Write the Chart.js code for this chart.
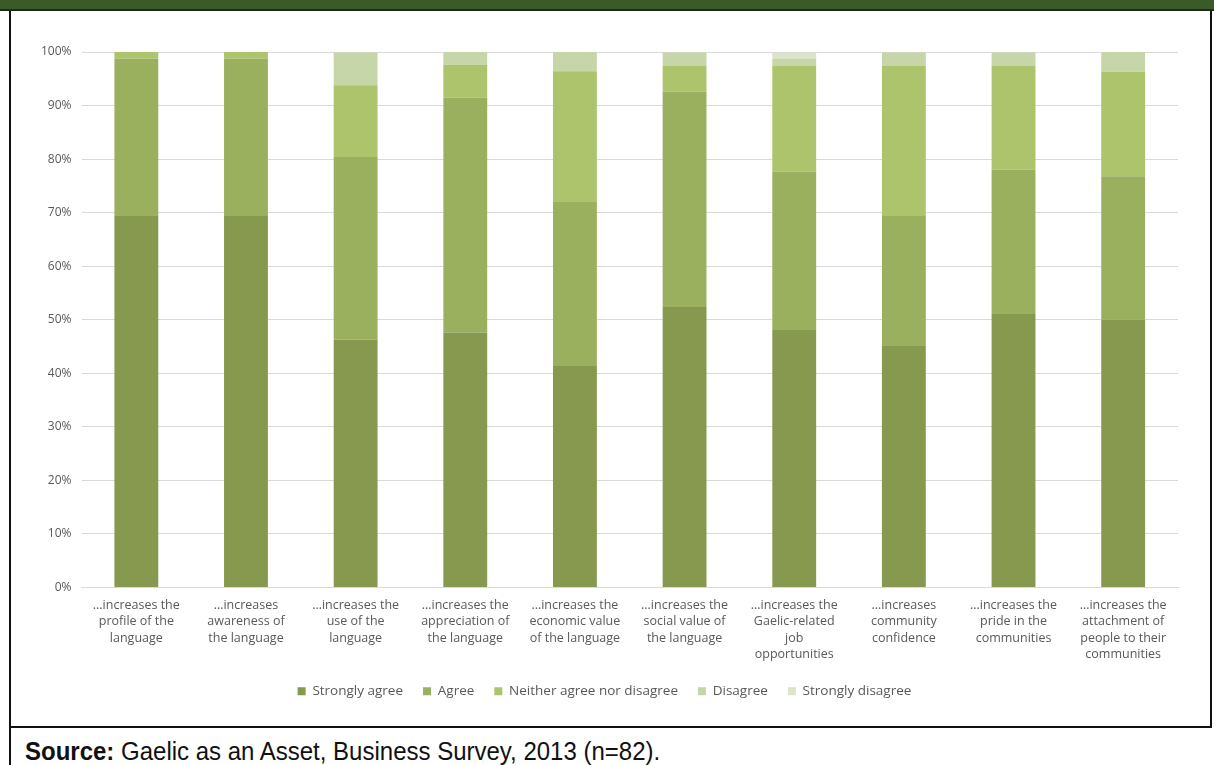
<!DOCTYPE html>
<html>
<head>
<meta charset="utf-8">
<script src="https://cdn.jsdelivr.net/npm/chart.js@4.4.0/dist/chart.umd.min.js"></script>
<style>
  body { margin: 0; background: #fff; width: 1214px; height: 765px; position: relative; overflow: hidden; }
  .topband { position: absolute; left: 0; top: 0; width: 1214px; height: 9px; background: #3a5b28; border-bottom: 2px solid #1f2a18; }
  .box { position: absolute; left: 9px; top: 11px; width: 1201px; height: 715px; border-right: 2px solid #111; border-bottom: 2px solid #111; }
  .leftline { position: absolute; left: 9px; top: 11px; width: 2px; height: 754px; background: #111; }
  .box canvas { display: block; margin-left: 2px; }
  .source { position: absolute; left: 25px; top: 736px; font-family: "Liberation Sans", Arial, sans-serif; font-size: 26px; line-height: 30px; color: #111;
            transform: scaleX(0.923); transform-origin: left top; white-space: nowrap; }
</style>
</head>
<body>
<div class="topband"></div>
<div class="box"><canvas id="surveyChart" width="1199" height="715"></canvas></div>
<div class="leftline"></div>
<div class="source"><b>Source:</b> Gaelic as an Asset, Business Survey, 2013 (n=82).</div>
<script>
// Statements, wrapped the way the axis shows them
const statements = [
  ["…increases the", "profile of the", "language"],
  ["…increases", "awareness of", "the language"],
  ["…increases the", "use of the", "language"],
  ["…increases the", "appreciation of", "the language"],
  ["…increases the", "economic value", "of the language"],
  ["…increases the", "social value of", "the language"],
  ["…increases the", "Gaelic-related", "job", "opportunities"],
  ["…increases", "community", "confidence"],
  ["…increases the", "pride in the", "communities"],
  ["…increases the", "attachment of", "people to their", "communities"],
];

// Share of respondents (%) per answer
const stronglyAgree = [69.5, 69.5, 46.3, 47.6, 41.5, 52.4, 48.1, 45.1, 51.2, 50.0];
const agree = [29.3, 29.3, 34.1, 43.9, 30.5, 40.2, 29.6, 24.4, 26.8, 26.8];
const neither = [1.2, 1.2, 13.4, 6.1, 24.4, 4.9, 19.8, 28.0, 19.5, 19.5];
const disagree = [0, 0, 6.1, 2.4, 3.7, 2.4, 1.2, 2.4, 2.4, 3.7];
const stronglyDisagree = [0, 0, 0, 0, 0, 0, 1.2, 0, 0, 0];

const seriesNames = ["Strongly agree", "Agree", "Neither agree nor disagree", "Disagree", "Strongly disagree"];
const seriesValues = [stronglyAgree, agree, neither, disagree, stronglyDisagree];
const seriesColors = ["#87994f", "#9bb05e", "#adc46c", "#c7d6a8", "#dbe4c9"];

const textFont = "'Open Sans', 'Noto Sans', sans-serif";
const textColor = "#595959";

new Chart(document.getElementById("surveyChart"), {
  type: "bar",
  data: {
    labels: statements,
    datasets: seriesNames.map((name, i) => ({
      label: name,
      data: seriesValues[i],
      backgroundColor: seriesColors[i],
      borderWidth: 0,
      barPercentage: 0.4,
      categoryPercentage: 1.0,
    })),
  },
  options: {
    responsive: false,
    animation: false,
    layout: {
      padding: { top: 41, bottom: 18, left: 20, right: 32 },
    },
    scales: {
      x: {
        stacked: true,
        grid: { display: false },
        border: { color: "#d9d9d9", width: 1 },
        ticks: {
          color: textColor,
          font: { family: textFont, size: 12.5, lineHeight: 1.3 },
          maxRotation: 0,
          autoSkip: false,
          padding: 2,
        },
      },
      y: {
        stacked: true,
        min: 0,
        max: 100,
        grid: { color: "#d9d9d9", lineWidth: 1, drawTicks: false },
        border: { display: false },
        ticks: {
          stepSize: 10,
          color: textColor,
          font: { family: textFont, size: 12 },
          padding: 10,
          callback: (v) => v + "%",
        },
      },
    },
    plugins: {
      legend: {
        position: "bottom",
        labels: {
          color: textColor,
          font: { family: textFont, size: 13.5 },
          boxWidth: 8,
          boxHeight: 8,
          padding: 20,
        },
      },
      tooltip: { enabled: false },
    },
  },
});
</script>
</body>
</html>
